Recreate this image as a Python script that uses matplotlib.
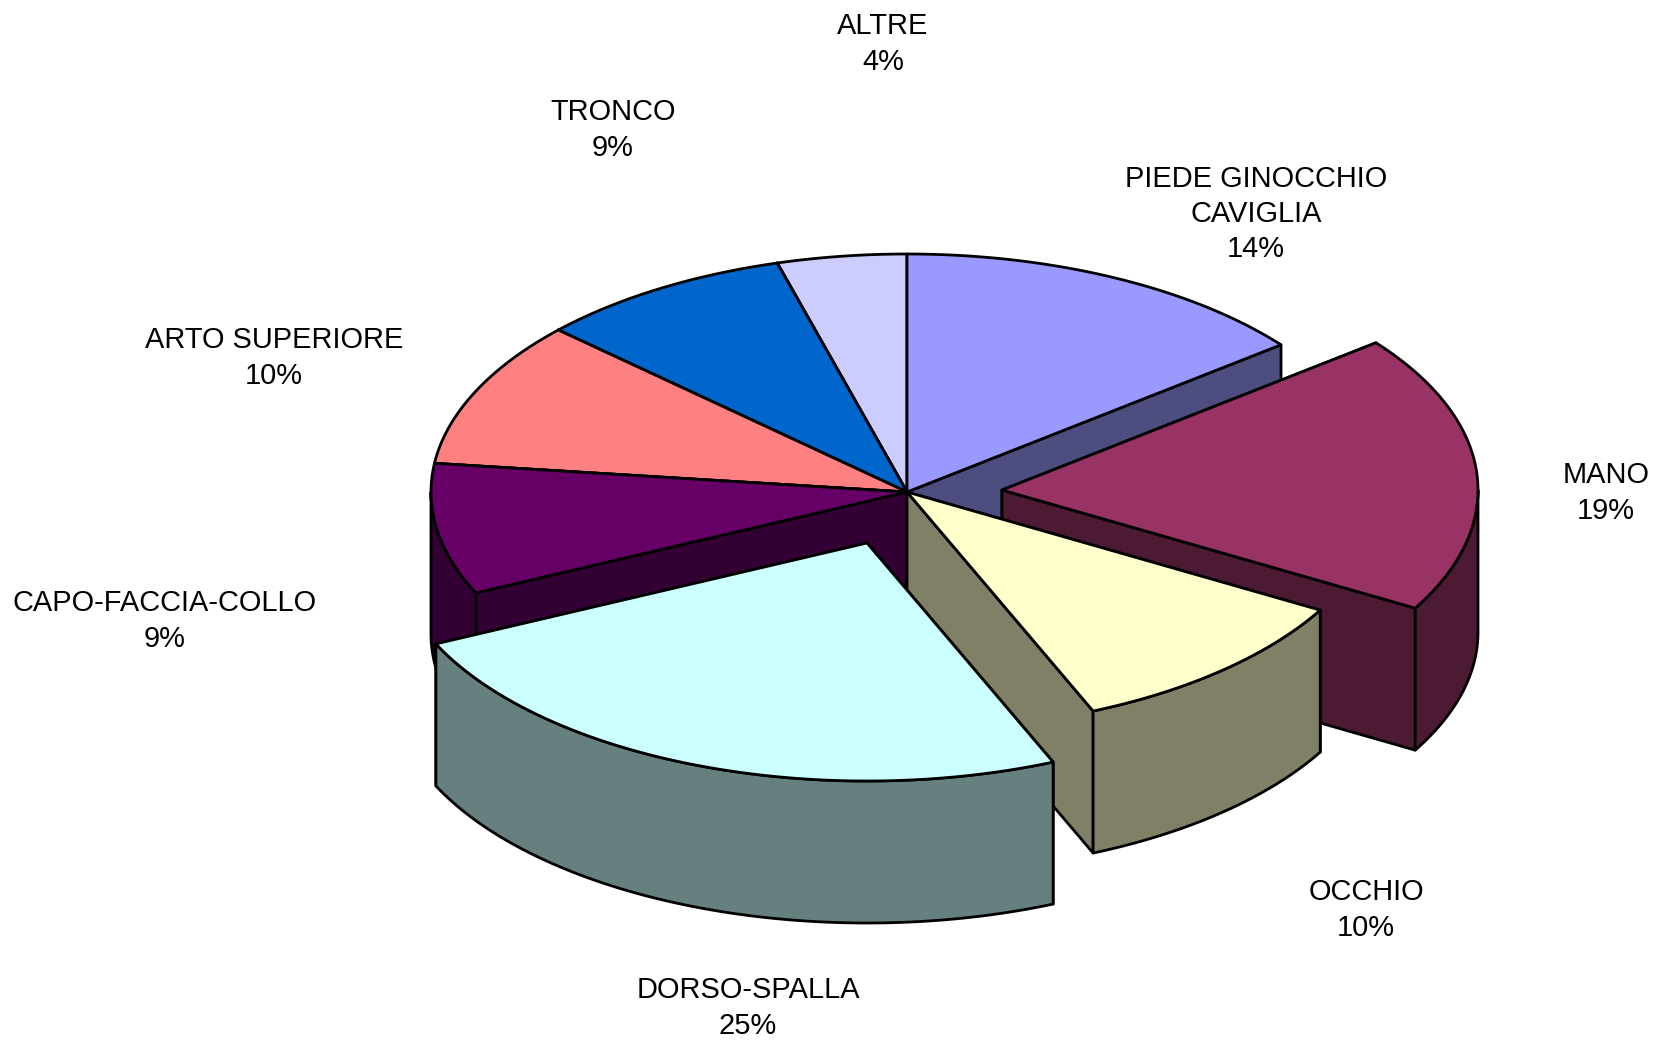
import numpy as np
import matplotlib
matplotlib.use('Agg')
import matplotlib.pyplot as plt
from matplotlib.patches import Polygon
from matplotlib.colors import to_rgb

plt.rcParams['font.family'] = ['Liberation Sans', 'DejaVu Sans']

# clockwise from 12 o'clock
labels = ['PIEDE GINOCCHIO\nCAVIGLIA', 'MANO', 'OCCHIO', 'DORSO-SPALLA',
          'CAPO-FACCIA-COLLO', 'ARTO SUPERIORE', 'TRONCO', 'ALTRE']
percents = [14, 19, 10, 25, 9, 10, 9, 4]
# shares as measured from the slice edges
values = [14.4, 18.9, 10.35, 24.45, 8.9, 10.0, 8.7, 4.4]
colors = ['#9999FF', '#993366', '#FFFFCC', '#CCFFFF',
          '#660066', '#FF8080', '#0066CC', '#CCCCFF']

# explosion of each slice, in pixels
offsets = [(0, 0), (95, -2), (0, 0), (-40, 51), (0, 0), (0, 0), (0, 0), (0, 0)]
# where the labels sit
label_pos = [(1256, 214), (1606, 493), (1366, 910), (748, 1008),
             (165, 621), (274, 358), (613, 130), (883, 44)]
# back slices get painted first
draw_order = [7, 6, 5, 0, 4, 1, 2, 3]

CX, CY = 907, 492
RX, RY = 476, 238
DEPTH = 142
LW = 2.0


def rim(a0, a1, dx, dy, down=0):
    # points on the ellipse, angles in degrees clockwise from the top
    t = np.radians(np.linspace(a0, a1, max(int(abs(a1 - a0) * 2), 2)))
    return np.column_stack([CX + dx + RX * np.sin(t), CY + dy - RY * np.cos(t) + down])


def face(ax, pts, color):
    ax.add_patch(Polygon(pts, closed=True, facecolor=color, edgecolor='black',
                         linewidth=LW, joinstyle='round'))


fig = plt.figure(figsize=(16.59, 10.42), dpi=100)
ax = fig.add_axes([0, 0, 1, 1])
ax.set_xlim(0, 1659)
ax.set_ylim(1042, 0)
ax.axis('off')

edges = np.concatenate([[0], np.cumsum(values)]) / sum(values) * 360

for i in draw_order:
    a0, a1 = edges[i], edges[i + 1]
    dx, dy = offsets[i]
    side = tuple(c * 0.5 for c in to_rgb(colors[i]))
    apex = np.array([CX + dx, CY + dy])
    arc = rim(a0, a1, dx, dy)

    # cut walls, the one further back first
    for p in sorted((arc[0], arc[-1]), key=lambda q: q[1]):
        face(ax, [apex, p, p + (0, DEPTH), apex + (0, DEPTH)], side)
    # outer wall, only the front half of the ellipse shows
    lo, hi = max(a0, 90), min(a1, 270)
    if lo < hi:
        top = rim(lo, hi, dx, dy)
        bottom = rim(lo, hi, dx, dy, DEPTH)
        face(ax, np.vstack([top, bottom[::-1]]), side)
    # top
    face(ax, np.vstack([apex, arc]), colors[i])

for name, pct, (x, y) in zip(labels, percents, label_pos):
    ax.text(x, y, f'{name}\n{pct}%', ha='center', va='center', fontsize=20.9,
            color='black', linespacing=1.34)

fig.savefig('out.png', dpi=100)
